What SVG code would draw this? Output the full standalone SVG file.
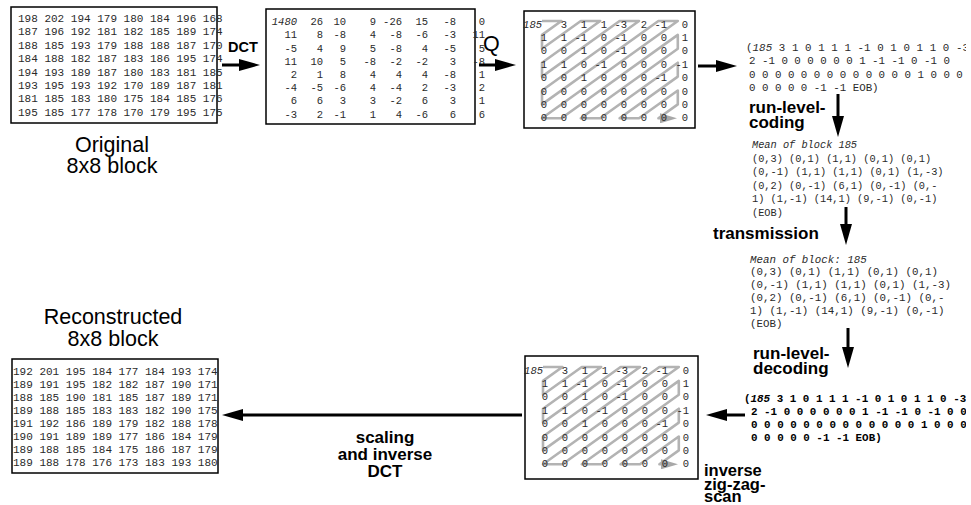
<svg xmlns="http://www.w3.org/2000/svg" width="971" height="505" viewBox="0 0 971 505">
  <style>
    .box { fill: #fff; stroke: #000; stroke-width: 1.5; }
    .m { font-family: "Liberation Mono", "Courier New", monospace; font-size: 11px; fill: #2a2a2a; }
    .mx { font-family: "Liberation Mono", "Courier New", monospace; font-size: 10.5px; fill: #2a2a2a; text-anchor: end; }
    .rl { font-family: "Liberation Mono", "Courier New", monospace; font-size: 10.3px; fill: #2a2a2a; }
    .rl2 { font-family: "Liberation Mono", "Courier New", monospace; font-size: 10.8px; fill: #2a2a2a; }
    .rlb { font-family: "Liberation Mono", "Courier New", monospace; font-size: 10.9px; font-weight: bold; fill: #000; }
    .it { font-style: italic; }
    .lbl { font-family: "Liberation Sans", Arial, sans-serif; font-weight: bold; font-size: 17px; fill: #000; }
    .cap { font-family: "Liberation Sans", Arial, sans-serif; font-size: 21.5px; fill: #000; text-anchor: middle; }
    .arrow { stroke: #000; stroke-width: 3; fill: none; marker-end: url(#ah); }
    .zz { stroke: #b3b3b3; stroke-width: 2.6; fill: none; stroke-linejoin: round; marker-end: url(#zh); }
  </style>
  <defs>
    <marker id="ah" markerUnits="userSpaceOnUse" markerWidth="22" markerHeight="12" refX="13" refY="6" orient="auto">
      <path d="M0,0 L21,6 L0,12 Z" fill="#000"/>
    </marker>
    <marker id="zh" markerUnits="userSpaceOnUse" markerWidth="18" markerHeight="10" refX="11" refY="5" orient="auto">
      <path d="M0,0 L17,5 L0,10 Z" fill="#a8a8a8"/>
    </marker>
    <clipPath id="page">
      <rect x="0" y="0" width="966" height="505"/>
    </clipPath>
  </defs>

  <!-- original 8x8 pixel block -->
  <g id="original">
    <rect class="box" x="11" y="7" width="206" height="116"/>
    <text class="m" x="18" y="22">198 202 194 179 180 184 196 168</text>
    <text class="m" x="18" y="35.4">187 196 192 181 182 185 189 174</text>
    <text class="m" x="18" y="48.8">188 185 193 179 188 188 187 170</text>
    <text class="m" x="18" y="62.2">184 188 182 187 183 186 195 174</text>
    <text class="m" x="18" y="75.6">194 193 189 187 180 183 181 185</text>
    <text class="m" x="18" y="89">193 195 193 192 170 189 187 181</text>
    <text class="m" x="18" y="102.4">181 185 183 180 175 184 185 176</text>
    <text class="m" x="18" y="115.8">195 185 177 178 170 179 195 175</text>
    <text class="cap" x="112" y="151.5">Original</text>
    <text class="cap" x="112" y="173">8x8 block</text>
  </g>

  <!-- DCT coefficients -->
  <g id="dct">
    <rect class="box" x="266" y="9" width="209" height="115"/>
    <text class="mx" y="25.2"><tspan x="297" class="it">1480</tspan><tspan x="323">26</tspan><tspan x="346">10</tspan><tspan x="376">9</tspan><tspan x="402">-26</tspan><tspan x="428">15</tspan><tspan x="456">-8</tspan><tspan x="485">0</tspan></text>
    <text class="mx" y="38.4"><tspan x="297">11</tspan><tspan x="323">8</tspan><tspan x="346">-8</tspan><tspan x="376">4</tspan><tspan x="402">-8</tspan><tspan x="428">-6</tspan><tspan x="456">-3</tspan><tspan x="485">11</tspan></text>
    <text class="mx" y="51.6"><tspan x="297">-5</tspan><tspan x="323">4</tspan><tspan x="346">9</tspan><tspan x="376">5</tspan><tspan x="402">-8</tspan><tspan x="428">4</tspan><tspan x="456">-5</tspan><tspan x="485">5</tspan></text>
    <text class="mx" y="64.8"><tspan x="297">11</tspan><tspan x="323">10</tspan><tspan x="346">5</tspan><tspan x="376">-8</tspan><tspan x="402">-2</tspan><tspan x="428">-2</tspan><tspan x="456">3</tspan><tspan x="485">-8</tspan></text>
    <text class="mx" y="78"><tspan x="297">2</tspan><tspan x="323">1</tspan><tspan x="346">8</tspan><tspan x="376">4</tspan><tspan x="402">4</tspan><tspan x="428">4</tspan><tspan x="456">-8</tspan><tspan x="485">1</tspan></text>
    <text class="mx" y="91.2"><tspan x="297">-4</tspan><tspan x="323">-5</tspan><tspan x="346">-6</tspan><tspan x="376">4</tspan><tspan x="402">-4</tspan><tspan x="428">2</tspan><tspan x="456">-3</tspan><tspan x="485">2</tspan></text>
    <text class="mx" y="104.4"><tspan x="297">6</tspan><tspan x="323">6</tspan><tspan x="346">3</tspan><tspan x="376">3</tspan><tspan x="402">-2</tspan><tspan x="428">6</tspan><tspan x="456">3</tspan><tspan x="485">1</tspan></text>
    <text class="mx" y="117.6"><tspan x="297">-3</tspan><tspan x="323">2</tspan><tspan x="346">-1</tspan><tspan x="376">1</tspan><tspan x="402">4</tspan><tspan x="428">-6</tspan><tspan x="456">6</tspan><tspan x="485">6</tspan></text>
  </g>

  <!-- quantized coefficients with zig-zag scan order -->
  <g id="quantized">
    <rect class="box" x="524" y="11" width="171" height="117"/>
    <path class="zz" d="M542,21 L561.4,21 L542,34.9 L542,48.8 L580.8,21 L600.2,21 L542,62.7 L542,76.6 L619.6,21 L639,21 L542,90.5 L542,104.4 L658.4,21 L677.8,21 L542,118.3 L561.4,118.3 L677.8,34.9 L677.8,48.8 L580.8,118.3 L600.2,118.3 L677.8,62.7 L677.8,76.6 L619.6,118.3 L639,118.3 L677.8,90.5 L677.8,104.4 L658.4,118.3 L671,118.3"/>
    <text class="mx" y="27.5"><tspan x="542" class="it">185</tspan><tspan x="567">3</tspan><tspan x="587">1</tspan><tspan x="607">1</tspan><tspan x="627">-3</tspan><tspan x="647">2</tspan><tspan x="667">-1</tspan><tspan x="688">0</tspan></text>
    <text class="mx" y="40.9"><tspan x="547">1</tspan><tspan x="567">1</tspan><tspan x="587">-1</tspan><tspan x="607">0</tspan><tspan x="627">-1</tspan><tspan x="647">0</tspan><tspan x="667">0</tspan><tspan x="688">1</tspan></text>
    <text class="mx" y="54.3"><tspan x="547">0</tspan><tspan x="567">0</tspan><tspan x="587">1</tspan><tspan x="607">0</tspan><tspan x="627">-1</tspan><tspan x="647">0</tspan><tspan x="667">0</tspan><tspan x="688">0</tspan></text>
    <text class="mx" y="67.7"><tspan x="547">1</tspan><tspan x="567">1</tspan><tspan x="587">0</tspan><tspan x="607">-1</tspan><tspan x="627">0</tspan><tspan x="647">0</tspan><tspan x="667">0</tspan><tspan x="688">-1</tspan></text>
    <text class="mx" y="81.1"><tspan x="547">0</tspan><tspan x="567">0</tspan><tspan x="587">1</tspan><tspan x="607">0</tspan><tspan x="627">0</tspan><tspan x="647">0</tspan><tspan x="667">-1</tspan><tspan x="688">0</tspan></text>
    <text class="mx" y="94.5"><tspan x="547">0</tspan><tspan x="567">0</tspan><tspan x="587">0</tspan><tspan x="607">0</tspan><tspan x="627">0</tspan><tspan x="647">0</tspan><tspan x="667">0</tspan><tspan x="688">0</tspan></text>
    <text class="mx" y="107.9"><tspan x="547">0</tspan><tspan x="567">0</tspan><tspan x="587">0</tspan><tspan x="607">0</tspan><tspan x="627">0</tspan><tspan x="647">0</tspan><tspan x="667">0</tspan><tspan x="688">0</tspan></text>
    <text class="mx" y="121.3"><tspan x="547">0</tspan><tspan x="567">0</tspan><tspan x="587">0</tspan><tspan x="607">0</tspan><tspan x="627">0</tspan><tspan x="647">0</tspan><tspan x="667">0</tspan><tspan x="688">0</tspan></text>
  </g>

  <!-- scanned coefficient sequence -->
  <g id="sequence" clip-path="url(#page)">
    <text class="rl2" x="746" y="50.5" textLength="223" lengthAdjust="spacing">(<tspan class="it">185</tspan> 3 1 0 1 1 1 -1 0 1 0 1 1 0 -3</text>
    <text class="rl2" x="749" y="64">2 -1 0 0 0 0 0 0 1 -1 -1 0 -1 0</text>
    <text class="rl2" x="749" y="77.5">0 0 0 0 0 0 0 0 0 0 0 0 0 1 0 0 0</text>
    <text class="rl2" x="749" y="91">0 0 0 0 0 -1 -1 EOB)</text>
  </g>

  <!-- run-level pairs before transmission -->
  <g id="runlevel-sent">
    <text class="rl it" x="752" y="148">Mean of block 185</text>
    <text class="rl" x="752" y="161.5">(0,3) (0,1) (1,1) (0,1) (0,1)</text>
    <text class="rl" x="752" y="175">(0,-1) (1,1) (1,1) (0,1) (1,-3)</text>
    <text class="rl" x="752" y="188.5">(0,2) (0,-1) (6,1) (0,-1) (0,-</text>
    <text class="rl" x="752" y="202">1) (1,-1) (14,1) (9,-1) (0,-1)</text>
    <text class="rl" x="752" y="215.5">(EOB)</text>
  </g>

  <!-- run-level pairs after transmission -->
  <g id="runlevel-received">
    <text class="rl2 it" x="750" y="262.5">Mean of block: 185</text>
    <text class="rl2" x="750" y="275.3">(0,3) (0,1) (1,1) (0,1) (0,1)</text>
    <text class="rl2" x="750" y="288.1">(0,-1) (1,1) (1,1) (0,1) (1,-3)</text>
    <text class="rl2" x="750" y="300.9">(0,2) (0,-1) (6,1) (0,-1) (0,-</text>
    <text class="rl2" x="750" y="313.7">1) (1,-1) (14,1) (9,-1) (0,-1)</text>
    <text class="rl2" x="750" y="326.5">(EOB)</text>
  </g>

  <!-- decoded coefficient sequence -->
  <g id="sequence-decoded" clip-path="url(#page)">
    <text class="rlb" x="744" y="402">(<tspan class="it">185</tspan> 3 1 0 1 1 1 -1 0 1 0 1 1 0 -3</text>
    <text class="rlb" x="751" y="415">2 -1 0 0 0 0 0 0 1 -1 -1 0 -1 0 0</text>
    <text class="rlb" x="751" y="428">0 0 0 0 0 0 0 0 0 0 0 0 0 1 0 0 0</text>
    <text class="rlb" x="751" y="441">0 0 0 0 0 -1 -1 EOB)</text>
  </g>

  <!-- coefficients restored by inverse zig-zag scan -->
  <g id="dequantized">
    <rect class="box" x="525" y="356" width="173" height="123"/>
    <g transform="translate(1,346)">
      <path class="zz" d="M542,21 L561.4,21 L542,34.9 L542,48.8 L580.8,21 L600.2,21 L542,62.7 L542,76.6 L619.6,21 L639,21 L542,90.5 L542,104.4 L658.4,21 L677.8,21 L542,118.3 L561.4,118.3 L677.8,34.9 L677.8,48.8 L580.8,118.3 L600.2,118.3 L677.8,62.7 L677.8,76.6 L619.6,118.3 L639,118.3 L677.8,90.5 L677.8,104.4 L658.4,118.3 L671,118.3"/>
      <text class="mx" y="27.5"><tspan x="542" class="it">185</tspan><tspan x="567">3</tspan><tspan x="587">1</tspan><tspan x="607">1</tspan><tspan x="627">-3</tspan><tspan x="647">2</tspan><tspan x="667">-1</tspan><tspan x="688">0</tspan></text>
      <text class="mx" y="40.9"><tspan x="547">1</tspan><tspan x="567">1</tspan><tspan x="587">-1</tspan><tspan x="607">0</tspan><tspan x="627">-1</tspan><tspan x="647">0</tspan><tspan x="667">0</tspan><tspan x="688">1</tspan></text>
      <text class="mx" y="54.3"><tspan x="547">0</tspan><tspan x="567">0</tspan><tspan x="587">1</tspan><tspan x="607">0</tspan><tspan x="627">-1</tspan><tspan x="647">0</tspan><tspan x="667">0</tspan><tspan x="688">0</tspan></text>
      <text class="mx" y="67.7"><tspan x="547">1</tspan><tspan x="567">1</tspan><tspan x="587">0</tspan><tspan x="607">-1</tspan><tspan x="627">0</tspan><tspan x="647">0</tspan><tspan x="667">0</tspan><tspan x="688">-1</tspan></text>
      <text class="mx" y="81.1"><tspan x="547">0</tspan><tspan x="567">0</tspan><tspan x="587">1</tspan><tspan x="607">0</tspan><tspan x="627">0</tspan><tspan x="647">0</tspan><tspan x="667">-1</tspan><tspan x="688">0</tspan></text>
      <text class="mx" y="94.5"><tspan x="547">0</tspan><tspan x="567">0</tspan><tspan x="587">0</tspan><tspan x="607">0</tspan><tspan x="627">0</tspan><tspan x="647">0</tspan><tspan x="667">0</tspan><tspan x="688">0</tspan></text>
      <text class="mx" y="107.9"><tspan x="547">0</tspan><tspan x="567">0</tspan><tspan x="587">0</tspan><tspan x="607">0</tspan><tspan x="627">0</tspan><tspan x="647">0</tspan><tspan x="667">0</tspan><tspan x="688">0</tspan></text>
      <text class="mx" y="121.3"><tspan x="547">0</tspan><tspan x="567">0</tspan><tspan x="587">0</tspan><tspan x="607">0</tspan><tspan x="627">0</tspan><tspan x="647">0</tspan><tspan x="667">0</tspan><tspan x="688">0</tspan></text>
    </g>
  </g>

  <!-- reconstructed 8x8 pixel block -->
  <g id="reconstructed">
    <text class="cap" x="113" y="323.5">Reconstructed</text>
    <text class="cap" x="113" y="345.5">8x8 block</text>
    <rect class="box" x="12" y="359" width="206" height="114"/>
    <text class="m" x="13" y="374.5">192 201 195 184 177 184 193 174</text>
    <text class="m" x="13" y="387.5">189 191 195 182 182 187 190 171</text>
    <text class="m" x="13" y="400.5">188 185 190 181 185 187 189 171</text>
    <text class="m" x="13" y="413.5">189 188 185 183 183 182 190 175</text>
    <text class="m" x="13" y="426.5">191 192 186 189 179 182 188 178</text>
    <text class="m" x="13" y="439.5">190 191 189 189 177 186 184 179</text>
    <text class="m" x="13" y="452.5">189 188 185 184 175 186 187 179</text>
    <text class="m" x="13" y="465.5">189 188 178 176 173 183 193 180</text>
  </g>

  <!-- processing steps -->
  <g id="connectors">
    <line class="arrow" x1="222" y1="65" x2="252" y2="65"/>
    <line class="arrow" x1="479" y1="65" x2="508" y2="65"/>
    <line class="arrow" x1="698" y1="66" x2="729" y2="66"/>
    <line class="arrow" x1="838" y1="94" x2="838" y2="129"/>
    <line class="arrow" x1="846" y1="207" x2="846" y2="237"/>
    <line class="arrow" x1="848" y1="328" x2="848" y2="360"/>
    <line class="arrow" x1="745" y1="415" x2="714" y2="415"/>
    <line class="arrow" x1="522" y1="415" x2="230" y2="415"/>
    <text class="lbl" x="228" y="51.5" style="font-size:14.5px">DCT</text>
    <text x="483" y="51" style="font-family:'Liberation Sans',Arial,sans-serif;font-size:21.5px">Q</text>
    <text class="lbl" x="749" y="113">run-level-</text>
    <text class="lbl" x="749" y="127.5">coding</text>
    <text class="lbl" x="713" y="239">transmission</text>
    <text class="lbl" x="753" y="359">run-level-</text>
    <text class="lbl" x="753" y="374">decoding</text>
    <text class="lbl" x="704" y="475.5" style="font-size:16.5px">inverse</text>
    <text class="lbl" x="704" y="489.5" style="font-size:16.5px">zig-zag-</text>
    <text class="lbl" x="704" y="502" style="font-size:16.5px">scan</text>
    <text class="lbl" x="385" y="443" text-anchor="middle">scaling</text>
    <text class="lbl" x="385" y="460" text-anchor="middle">and inverse</text>
    <text class="lbl" x="385" y="477" text-anchor="middle">DCT</text>
  </g>
</svg>
